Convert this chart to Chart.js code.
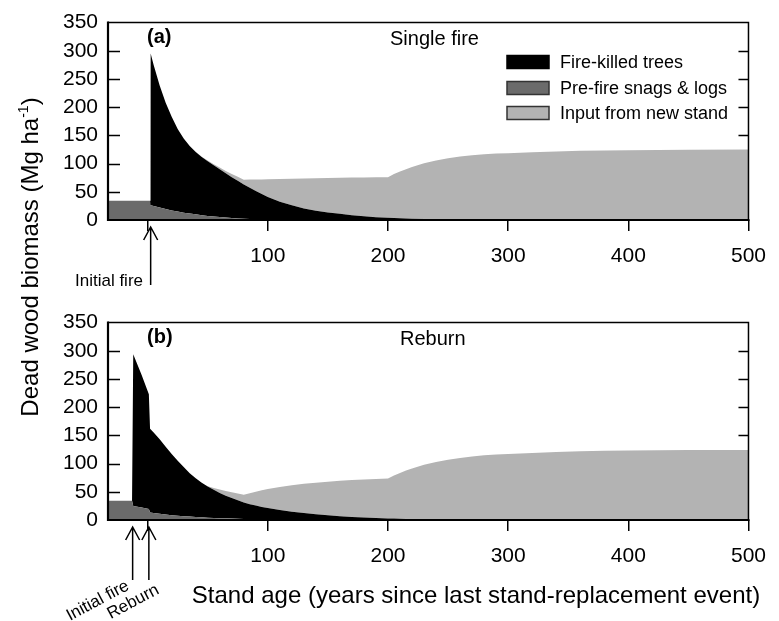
<!DOCTYPE html>
<html>
<head>
<meta charset="utf-8">
<style>
  html, body { margin: 0; padding: 0; background: #fff; }
  #wrap { position: relative; width: 779px; height: 621px; font-family: "Liberation Sans", Arial, sans-serif; }
  .panel { position: absolute; left: 0; width: 779px; }
  #ytitle { position: absolute; left: -170px; top: 243px; width: 400px; height: 28px; line-height: 28px;
            text-align: center; font-size: 24px; color: #000; transform: rotate(-90deg); white-space: nowrap; }
</style>
</head>
<body>
<div id="wrap">
  <div class="panel" style="top:0;height:300px"><canvas id="chartA"></canvas></div>
  <div class="panel" style="top:300px;height:321px"><canvas id="chartB"></canvas></div>
  <div id="ytitle">Dead wood biomass (Mg ha<span style="font-size:14px;position:relative;top:-10px">-1</span>)</div>
</div>

<script src="https://cdn.jsdelivr.net/npm/chart.js"></script>
<script>
// ---- data (Mg/ha) ----
const seriesNames = ["Pre-fire snags & logs", "Fire-killed trees", "Input from new stand"];
const xTicks = [0, 100, 200, 300, 400, 500];
const yTicks = [0, 50, 100, 150, 200, 250, 300, 350];

// (a) single fire
const yearsA  = [-33, 2, 2.5, 5, 10, 15, 20, 25, 30, 35,
                 40, 45, 50, 55, 60, 65, 70, 75, 80, 85,
                 90, 95, 100, 110, 120, 130, 140, 150, 160, 170,
                 180, 190, 200, 205, 210, 215, 220, 230, 240, 250,
                 260, 270, 280, 290, 300, 320, 340, 360, 380, 400,
                 450, 500];
const snagsA  = [34, 34, 26, 25, 22, 19.5, 17, 15, 13, 11.5,
                 10, 8.5, 7.3, 6.2, 5.2, 4.3, 3.5, 2.8, 2.2, 1.7,
                 1.3, 1, 0.7, 0.3, 0, 0, 0, 0, 0, 0,
                 0, 0, 0, 0, 0, 0, 0, 0, 0, 0,
                 0, 0, 0, 0, 0, 0, 0, 0, 0, 0,
                 0, 0];
const killedA = [0, 0, 269, 250, 216.5, 188.5, 166, 146.5, 131.5, 119.5,
                 110.5, 103, 96.7, 90.8, 84.8, 78.7, 72.5, 66.7, 60.8, 55.3,
                 50.2, 45, 40.3, 32.2, 26, 20.5, 16.5, 13.5, 11, 8.5,
                 6.5, 5, 4, 3.5, 3, 2.6, 2.3, 1.9, 1.5, 1.3,
                 1.1, 1, 0.9, 0.8, 0.7, 0.4, 0, 0, 0, 0,
                 0, 0];
const newA    = [0, 0, 0, 0, 0, 0, 0, 0, 0, 0,
                 0.3, 0.8, 1.5, 2, 3, 4, 5.5, 7, 8.5, 14.6,
                 20.3, 26, 31.2, 40.2, 47.2, 53.1, 57.5, 61, 64, 66.8,
                 69, 70.8, 72, 78, 83, 87.6, 91.7, 98.6, 104, 108.2,
                 111.4, 114, 115.7, 116.9, 117.8, 119.8, 121.6, 122.6, 123.3, 123.8,
                 124.5, 124.8];

// (b) reburn
const yearsB  = [-33, -13, -12, -5, 1, 2, 5, 10, 15, 20,
                 25, 30, 35, 40, 45, 50, 55, 60, 65, 70,
                 75, 80, 85, 90, 95, 100, 110, 120, 130, 140,
                 150, 160, 170, 180, 190, 200, 205, 210, 215, 220,
                 230, 240, 250, 260, 270, 280, 290, 300, 320, 340,
                 360, 380, 400, 450, 500];
const snagsB  = [34, 34, 25, 22, 19.5, 13.5, 12.5, 11, 9.8, 8.6,
                 7.6, 6.8, 6, 5.3, 4.7, 4.2, 3.7, 3.3, 2.9, 2.5,
                 2.1, 1.7, 1.2, 0.8, 0.4, 0, 0, 0, 0, 0,
                 0, 0, 0, 0, 0, 0, 0, 0, 0, 0,
                 0, 0, 0, 0, 0, 0, 0, 0, 0, 0,
                 0, 0, 0, 0, 0];
const killedB = [0, 0, 269, 235, 203.5, 148.5, 142.5, 132, 120.2, 108.4,
                 97.4, 87.2, 77, 68.7, 61.3, 55.3, 49.8, 44.7, 40.1, 36.5,
                 32.9, 29.3, 26.8, 24.7, 22.8, 21.3, 17.8, 14.8, 12.3, 10.2,
                 8.3, 6.8, 5.5, 4.4, 3.5, 2.8, 2.5, 2.2, 1.9, 1.7,
                 1.3, 1, 0.8, 0.6, 0.45, 0.3, 0.15, 0, 0, 0,
                 0, 0, 0, 0, 0];
const newB    = [0, 0, 0, 0, 0, 0, 0, 0, 0, 0,
                 0, 0, 0, 0, 0, 0.3, 3.2, 6, 8.5, 10.2,
                 12, 13.8, 19.5, 24.7, 29.5, 33.7, 40.9, 46.9, 51.9, 56,
                 59.7, 62.7, 65.3, 67.4, 69.2, 70.7, 76.3, 81.3, 85.9, 89.8,
                 96.7, 102, 106.2, 109.4, 112.25, 114.3, 115.85, 117, 119, 120.6,
                 121.8, 122.7, 123.3, 124, 124.2];

const colors = ["#6b6b6b", "#000000", "#b3b3b3"];
const FONT = '"Liberation Sans", Arial, sans-serif';

function pts(xs, ys) { return xs.map((x, i) => ({ x: x, y: ys[i] })); }

function makeDatasets(xs, snags, killed, fresh) {
  return [snags, killed, fresh].map((arr, i) => ({
    label: seriesNames[i],
    data: pts(xs, arr),
    backgroundColor: colors[i],
    borderColor: 'rgba(0,0,0,0)',
    borderWidth: 0,
    pointRadius: 0,
    tension: 0,
    fill: i === 0 ? 'origin' : '-1'
  }));
}

function tickMarks(chart, side, len) {
  const { ctx, chartArea: a, scales: { y } } = chart;
  ctx.save();
  ctx.strokeStyle = '#000';
  ctx.lineWidth = 1.5;
  ctx.beginPath();
  yTicks.forEach(v => {
    if (v <= 0 || v >= 350) return;
    const py = Math.round(y.getPixelForValue(v)) + 0.5;
    if (side === 'left') { ctx.moveTo(a.left, py); ctx.lineTo(a.left + len, py); }
    else { ctx.moveTo(a.right, py); ctx.lineTo(a.right - len, py); }
  });
  ctx.stroke();
  ctx.restore();
}

function arrow(ctx, x, yTip, yEnd) {
  ctx.beginPath();
  ctx.moveTo(x, yEnd); ctx.lineTo(x, yTip);
  ctx.moveTo(x - 7, yTip + 13); ctx.lineTo(x, yTip); ctx.lineTo(x + 7, yTip + 13);
  ctx.stroke();
}

function panelPlugin(cfg) {
  return {
    id: 'panel' + cfg.tag,
    beforeDatasetsDraw(chart) { tickMarks(chart, 'right', 10); },
    afterDatasetsDraw(chart) { tickMarks(chart, 'left', 12); },
    afterDraw(chart) {
      const { ctx, chartArea: a, scales: { x } } = chart;
      ctx.save();
      // frame
      ctx.strokeStyle = '#000';
      ctx.lineWidth = 1.5;
      ctx.beginPath();
      ctx.moveTo(a.left, a.top); ctx.lineTo(a.right, a.top); ctx.lineTo(a.right, a.bottom);
      ctx.stroke();
      ctx.lineWidth = 2.2;
      ctx.beginPath();
      ctx.moveTo(a.left, a.top - 1); ctx.lineTo(a.left, a.bottom); ctx.lineTo(a.right + 1, a.bottom);
      ctx.stroke();

      // panel letter and title
      ctx.fillStyle = '#000';
      ctx.textBaseline = 'middle';
      ctx.textAlign = 'left';
      ctx.font = 'bold 20px ' + FONT;
      ctx.fillText(cfg.letter, 147, a.top + 15);
      ctx.font = '20px ' + FONT;
      ctx.fillText(cfg.title, cfg.titleX, a.top + 17);

      // legend
      if (cfg.legend) {
        const order = [1, 0, 2];
        const rowY = [62, 88, 113];
        ctx.font = '18px ' + FONT;
        order.forEach((di, r) => {
          const ds = chart.data.datasets[di];
          ctx.fillStyle = ds.backgroundColor;
          ctx.fillRect(507, rowY[r] - 6.5, 42, 13);
          ctx.strokeStyle = di === 1 ? '#000' : '#333';
          ctx.lineWidth = 1.5;
          ctx.strokeRect(507, rowY[r] - 6.5, 42, 13);
          ctx.fillStyle = '#000';
          ctx.fillText(ds.label, 560, rowY[r] + 1);
        });
      }

      // fire arrows and notes
      ctx.strokeStyle = '#000';
      ctx.lineWidth = 1.5;
      ctx.fillStyle = '#000';
      ctx.font = '17px ' + FONT;
      cfg.events.forEach(ev => {
        const px = x.getPixelForValue(ev.year);
        arrow(ctx, px, a.bottom + 7, a.bottom + ev.len);
        ctx.save();
        ctx.translate(ev.tx, ev.ty);
        ctx.rotate(ev.rot);
        ctx.textAlign = 'right';
        ctx.textBaseline = 'alphabetic';
        ctx.fillText(ev.text, 0, 0);
        ctx.restore();
      });

      // x axis title
      if (cfg.xTitle) {
        ctx.font = '24px ' + FONT;
        ctx.textAlign = 'center';
        ctx.textBaseline = 'middle';
        ctx.fillText(cfg.xTitle, 476, 296);
      }
      ctx.restore();
    }
  };
}

function makeOptions(height) {
  return {
    responsive: true,
    maintainAspectRatio: false,
    animation: false,
    events: [],
    layout: { padding: { top: 18, right: 21, left: 0, bottom: 0 } },
    plugins: { legend: { display: false }, tooltip: { enabled: false } },
    scales: {
      x: {
        type: 'linear',
        min: -33,
        max: 500,
        afterFit: s => { s.height = height - 220; },
        afterBuildTicks: s => { s.ticks = xTicks.map(v => ({ value: v })); },
        grid: { drawOnChartArea: false, drawTicks: true, tickLength: 11, color: '#000', lineWidth: 1.5 },
        border: { display: false },
        ticks: {
          padding: 13,
          color: '#000',
          font: { family: FONT, size: 21 },
          maxRotation: 0,
          callback: v => (v === 0 ? '' : v)
        }
      },
      y: {
        stacked: true,
        min: 0,
        max: 350,
        afterFit: s => { s.width = 108; },
        afterBuildTicks: s => { s.ticks = yTicks.map(v => ({ value: v })); },
        grid: { display: false, drawTicks: false },
        border: { display: false },
        ticks: { padding: 10, color: '#000', font: { family: FONT, size: 21 } }
      }
    }
  };
}

new Chart(document.getElementById('chartA'), {
  type: 'line',
  data: { datasets: makeDatasets(yearsA, snagsA, killedA, newA) },
  options: makeOptions(300),
  plugins: [panelPlugin({
    tag: 'A', letter: '(a)', title: 'Single fire', titleX: 390, legend: true,
    events: [{ year: 2.5, len: 65, text: 'Initial fire', tx: 143, ty: 286, rot: 0 }]
  })]
});

new Chart(document.getElementById('chartB'), {
  type: 'line',
  data: { datasets: makeDatasets(yearsB, snagsB, killedB, newB) },
  options: makeOptions(321),
  plugins: [panelPlugin({
    tag: 'B', letter: '(b)', title: 'Reburn', titleX: 400, legend: false,
    xTitle: 'Stand age (years since last stand-replacement event)',
    events: [
      { year: -12.5, len: 60, text: 'Initial fire', tx: 130, ty: 289, rot: -28 * Math.PI / 180 },
      { year: 1, len: 60, text: 'Reburn', tx: 160, ty: 293, rot: -28 * Math.PI / 180 }
    ]
  })]
});
</script>
</body>
</html>
